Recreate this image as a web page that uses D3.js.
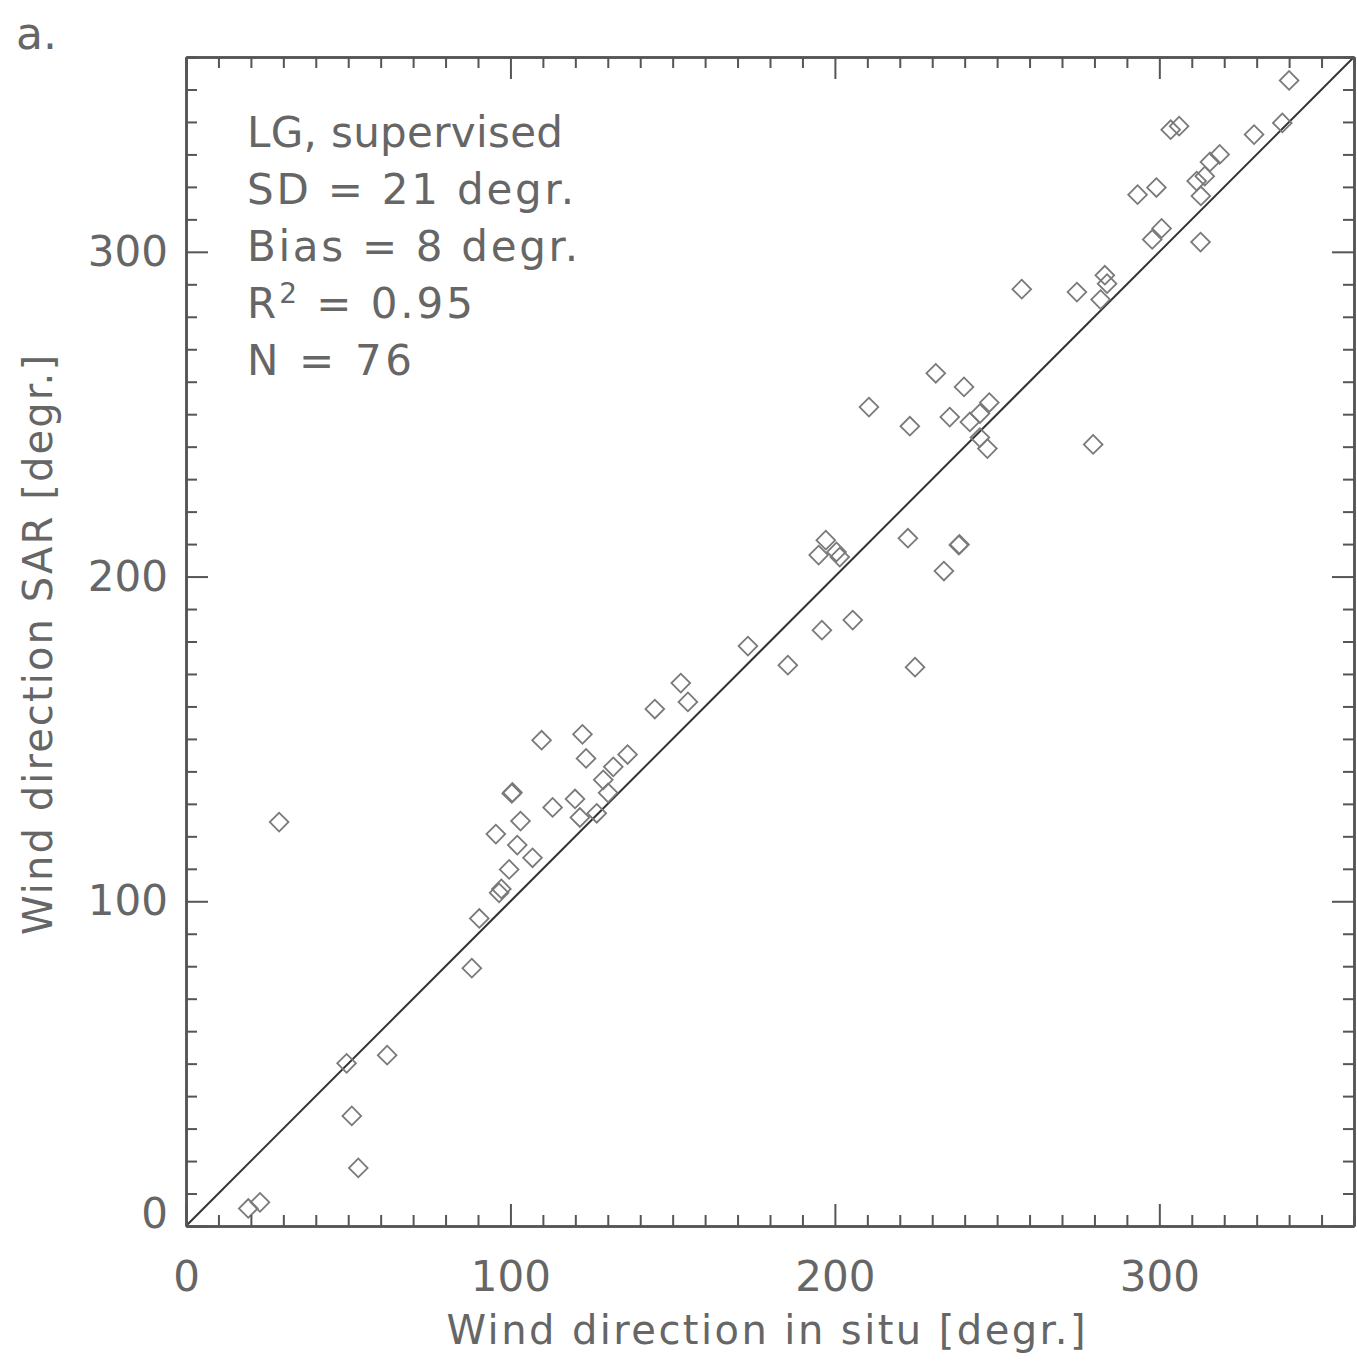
<!DOCTYPE html>
<html>
<head>
<meta charset="utf-8">
<script src="https://cdn.jsdelivr.net/npm/d3@7"></script>
<style>
  body { margin: 0; background: #fff; }
  text { font-family: "DejaVu Sans", sans-serif; fill: #666; }
</style>
</head>
<body>
<div id="chart"></div>
<script>
// Wind direction: in situ (x) vs SAR (y), degrees
const insitu = [19.2, 22.8, 28.7, 49.5, 51.1, 53.1, 62.0, 88.1, 90.4, 95.5,
    96.5, 97.2, 99.6, 100.4, 100.6, 102.1, 103.1, 106.8, 109.6, 113.0,
    119.9, 121.4, 122.2, 123.3, 126.6, 128.6, 130.1, 131.7, 136.1, 144.5,
    152.5, 154.7, 173.2, 185.5, 197.2, 195.0, 200.5, 201.5, 196.0, 205.5,
    210.5, 222.5, 223.1, 224.7, 231.1, 233.6, 238.2, 238.4, 235.4, 239.8,
    241.6, 244.7, 247.6, 244.7, 247.0, 279.6, 257.6, 274.6, 283.2, 283.9,
    281.9, 297.8, 300.7, 312.7, 340.0, 303.5, 306.1, 329.2, 337.9, 318.6,
    315.6, 311.5, 314.0, 312.8, 293.3, 299.1];
const sar = [5.4, 7.3, 124.4, 50.1, 33.9, 17.9, 52.6, 79.4, 94.7, 120.7,
    102.6, 103.8, 109.8, 133.2, 133.5, 117.3, 124.7, 113.4, 149.6, 128.9,
    131.5, 125.8, 151.4, 144.0, 127.1, 137.4, 133.4, 141.4, 145.2, 159.2,
    167.2, 161.4, 178.6, 172.7, 211.2, 206.6, 207.6, 206.0, 183.5, 186.6,
    252.2, 211.8, 246.3, 172.1, 262.6, 201.7, 209.7, 209.9, 249.1, 258.4,
    247.6, 250.2, 253.6, 242.8, 239.4, 240.7, 288.5, 287.6, 292.8, 290.2,
    285.3, 303.8, 307.2, 303.0, 352.8, 337.6, 338.7, 336.1, 339.7, 330.0,
    327.7, 321.8, 323.3, 317.2, 317.6, 319.8];

const majorTicks = [0, 100, 200, 300];
const minorTicks = d3.range(0, 361, 10).filter(v => v % 100 !== 0);

const statsLines = ['LG, supervised', 'SD = 21 degr.', 'Bias = 8 degr.', 'R\u00B2 = 0.95', 'N = 76'];
const statsWidths = [316, 327, 331, 226, 165];

const W = 1357, H = 1362;
const margin = { top: 57, right: 3, bottom: 136, left: 186 };
const width = W - margin.left - margin.right;
const height = H - margin.top - margin.bottom;

const root = d3.select('#chart').append('svg')
    .attr('width', W)
    .attr('height', H);

const svg = root.append('g')
    .attr('transform', `translate(${margin.left},${margin.top})`);

const x = d3.scaleLinear().domain([0, 360]).range([0, width]);
const y = d3.scaleLinear().domain([0, 360]).range([height, 0]);

// 1:1 line
svg.append('line')
    .attr('x1', x(0)).attr('y1', y(0))
    .attr('x2', x(360)).attr('y2', y(360))
    .attr('stroke', '#333')
    .attr('stroke-width', 2);

// diamonds
const diamond = d3.symbol().type(d3.symbolSquare).size(175);
svg.selectAll('.pt')
    .data(insitu.map((v, i) => [v, sar[i]]))
    .enter()
    .append('path')
    .attr('d', diamond)
    .attr('transform', d => `translate(${x(d[0])},${y(d[1])}) rotate(45)`)
    .attr('fill', 'none')
    .attr('stroke', '#7a7a7a')
    .attr('stroke-width', 1.8);

// axes - ticks point inward on all four sides
function styleAxis(g) {
    g.selectAll('.domain').attr('stroke', '#555').attr('stroke-width', 2.5);
    g.selectAll('.tick line').attr('stroke', '#555').attr('stroke-width', 2);
    g.selectAll('text').style('font-size', '42px').attr('fill', '#666');
}

const sides = [
    { gen: d3.axisBottom(x), t: `translate(0,${height})`, labels: true, pad: 35 },
    { gen: d3.axisTop(x), t: 'translate(0,0)', labels: false, pad: 20 },
    { gen: d3.axisLeft(y), t: 'translate(0,0)', labels: true, pad: 18 },
    { gen: d3.axisRight(y), t: `translate(${width},0)`, labels: false, pad: 20 }
];

sides.forEach((s, i) => {
    svg.append('g')
        .attr('transform', s.t)
        .call(s.gen.tickValues(minorTicks).tickSizeInner(-11).tickSizeOuter(0).tickFormat(''))
        .call(styleAxis);
    const g = svg.append('g')
        .attr('transform', s.t)
        .call(s.gen.tickValues(majorTicks).tickSizeInner(-22).tickSizeOuter(0)
            .tickPadding(s.pad).tickFormat(s.labels ? d3.format('d') : ''))
        .call(styleAxis);
    if (i === 2) {
        // the y-axis "0" sits a little above its tick
        g.selectAll('.tick').filter(d => d === 0).select('text').attr('y', -12);
    }
});

// axis titles
svg.append('text')
    .attr('x', width / 2 - 4)
    .attr('y', height + 118)
    .attr('text-anchor', 'middle')
    .attr('textLength', 639)
    .style('font-size', '40px')
    .text('Wind direction in situ [degr.]');

svg.append('text')
    .attr('transform', `translate(${52 - margin.left},${645 - margin.top}) rotate(-90)`)
    .attr('text-anchor', 'middle')
    .attr('textLength', 580)
    .style('font-size', '40px')
    .text('Wind direction SAR [degr.]');

// stats block
const stats = svg.selectAll('.stat')
    .data(statsLines)
    .enter()
    .append('text')
    .attr('x', 247 - margin.left)
    .attr('y', (d, i) => 147 - margin.top + i * 57)
    .attr('textLength', (d, i) => statsWidths[i])
    .style('font-size', '42px');

stats.each(function (d) {
    const t = d3.select(this);
    if (d.indexOf('\u00B2') >= 0) {
        const parts = d.split('\u00B2');
        t.append('tspan').text(parts[0]);
        t.append('tspan').attr('dy', -15).style('font-size', '28px').text('2');
        t.append('tspan').attr('dy', 15).text(parts[1]);
    } else {
        t.text(d);
    }
});

// panel label
root.append('text')
    .attr('x', 16)
    .attr('y', 49)
    .style('font-size', '44px')
    .text('a.');
</script>
</body>
</html>
